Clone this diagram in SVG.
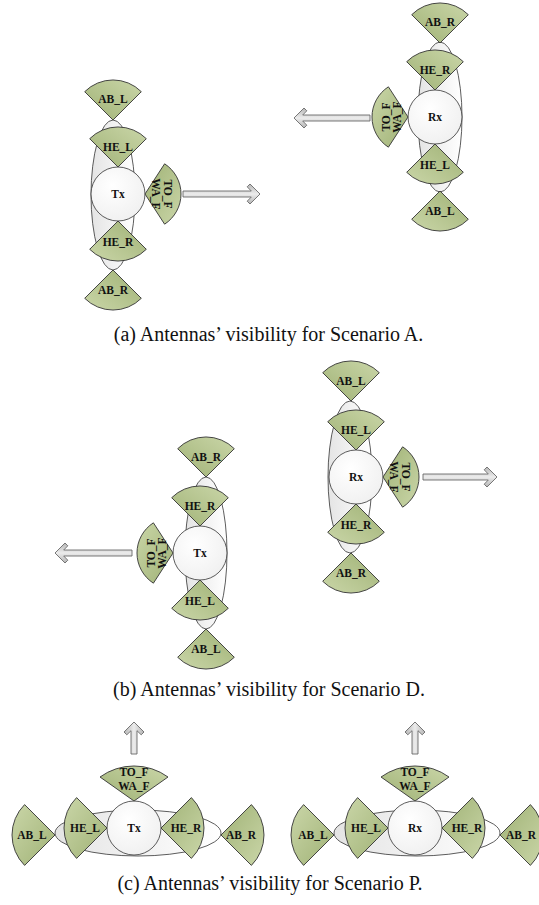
<svg xmlns="http://www.w3.org/2000/svg" xmlns:xlink="http://www.w3.org/1999/xlink" width="539" height="905" viewBox="0 0 539 905">
<defs>
<linearGradient id="gW" x1="0" y1="1" x2="1" y2="0">
<stop offset="0" stop-color="#a0b276"/>
<stop offset="1" stop-color="#cad6a8"/>
</linearGradient>
<linearGradient id="gE" x1="0" y1="0" x2="1" y2="0">
<stop offset="0" stop-color="#e4e4e4"/>
<stop offset="1" stop-color="#ffffff"/>
</linearGradient>
<radialGradient id="gC" cx="0.4" cy="0.35" r="0.7">
<stop offset="0" stop-color="#ffffff"/>
<stop offset="1" stop-color="#f0f0f0"/>
</radialGradient>
<linearGradient id="gA" x1="0" y1="0" x2="0" y2="1">
<stop offset="0" stop-color="#b4b4b4"/>
<stop offset="0.5" stop-color="#ececec"/>
<stop offset="1" stop-color="#b4b4b4"/>
</linearGradient>
<path id="wV" d="M0,0 L-28.3,-28.3 A40,40 0 0 1 28.3,-28.3 Z"/>
<path id="wT" d="M0,0 L-30.2,-19.6 A36,36 0 0 1 30.2,-19.6 Z"/>
<path id="wC" d="M0,0 L-30.4,-30.4 A43,43 0 0 1 30.4,-30.4 Z"/>
<path id="wCT" d="M0,0 L-34,-24 A58,58 0 0 1 34,-24 Z"/>
</defs>
<style>
.w{fill:url(#gW);stroke:#333333;stroke-width:0.9}
.e{fill:url(#gE);stroke:#333333;stroke-width:0.8}
.c{fill:url(#gC);stroke:#333333;stroke-width:0.8}
.l{font-family:"Liberation Serif","Times New Roman",serif;font-weight:bold;font-size:11.5px;text-anchor:middle;fill:#111}
.cap{font-family:"Liberation Serif","Times New Roman",serif;font-size:20px;text-anchor:middle;fill:#111}
.ar{fill:url(#gA);stroke:#6a6a6a;stroke-width:0.9;stroke-linejoin:miter}
</style>
<rect width="539" height="905" fill="#ffffff"/>

<!-- (a) Tx -->
<g id="a-tx">
<ellipse class="e" cx="113" cy="195" rx="22" ry="75"/>
<circle class="c" cx="118" cy="194" r="27"/>
<use xlink:href="#wV" class="w" transform="translate(113,120)"/>
<use xlink:href="#wV" class="w" transform="translate(118,167)"/>
<use xlink:href="#wT" class="w" transform="translate(145,194) rotate(90)"/>
<use xlink:href="#wV" class="w" transform="translate(118,221) rotate(180)"/>
<use xlink:href="#wV" class="w" transform="translate(113,270) rotate(180)"/>
<text class="l" x="118" y="198">Tx</text>
<text class="l" x="113" y="102.5">AB_L</text>
<text class="l" x="118" y="150.5">HE_L</text>
<text class="l" x="118" y="245.5">HE_R</text>
<text class="l" x="113" y="294">AB_R</text>
<text class="l" transform="translate(161.5,194) rotate(90)"><tspan x="0" y="-2">TO_F</tspan><tspan x="0" y="9.5">WA_F</tspan></text>
</g>

<!-- (a) Rx -->
<g id="a-rx">
<ellipse class="e" cx="440" cy="117" rx="22" ry="75"/>
<circle class="c" cx="435" cy="117" r="27"/>
<use xlink:href="#wV" class="w" transform="translate(440,43)"/>
<use xlink:href="#wV" class="w" transform="translate(435,90)"/>
<use xlink:href="#wT" class="w" transform="translate(408,117) rotate(-90)"/>
<use xlink:href="#wV" class="w" transform="translate(435,144) rotate(180)"/>
<use xlink:href="#wV" class="w" transform="translate(440,191) rotate(180)"/>
<text class="l" x="435" y="121">Rx</text>
<text class="l" x="440" y="25.5">AB_R</text>
<text class="l" x="435" y="73.5">HE_R</text>
<text class="l" x="435" y="168.5">HE_L</text>
<text class="l" x="440" y="215">AB_L</text>
<text class="l" transform="translate(391.5,117) rotate(-90)"><tspan x="0" y="-2">TO_F</tspan><tspan x="0" y="9.5">WA_F</tspan></text>
</g>

<!-- (b) Tx -->
<g id="b-tx">
<ellipse class="e" cx="206" cy="553" rx="21" ry="76"/>
<circle class="c" cx="200" cy="553" r="27"/>
<use xlink:href="#wV" class="w" transform="translate(206,477)"/>
<use xlink:href="#wV" class="w" transform="translate(200,526)"/>
<use xlink:href="#wT" class="w" transform="translate(173,553) rotate(-90)"/>
<use xlink:href="#wV" class="w" transform="translate(200,580) rotate(180)"/>
<use xlink:href="#wV" class="w" transform="translate(206,629) rotate(180)"/>
<text class="l" x="200" y="557">Tx</text>
<text class="l" x="206" y="460.5">AB_R</text>
<text class="l" x="200" y="509.5">HE_R</text>
<text class="l" x="200" y="604.5">HE_L</text>
<text class="l" x="206" y="653">AB_L</text>
<text class="l" transform="translate(156.5,553) rotate(-90)"><tspan x="0" y="-2">TO_F</tspan><tspan x="0" y="9.5">WA_F</tspan></text>
</g>

<!-- (b) Rx -->
<g id="b-rx">
<ellipse class="e" cx="350" cy="477" rx="22" ry="76"/>
<circle class="c" cx="356" cy="477" r="27"/>
<use xlink:href="#wV" class="w" transform="translate(351,401)"/>
<use xlink:href="#wV" class="w" transform="translate(356,450)"/>
<use xlink:href="#wT" class="w" transform="translate(383,477) rotate(90)"/>
<use xlink:href="#wV" class="w" transform="translate(356,504) rotate(180)"/>
<use xlink:href="#wV" class="w" transform="translate(351,553) rotate(180)"/>
<text class="l" x="356" y="481">Rx</text>
<text class="l" x="351" y="384.5">AB_L</text>
<text class="l" x="356" y="433.5">HE_L</text>
<text class="l" x="356" y="528.5">HE_R</text>
<text class="l" x="351" y="577">AB_R</text>
<text class="l" transform="translate(399.5,477) rotate(90)"><tspan x="0" y="-2">TO_F</tspan><tspan x="0" y="9.5">WA_F</tspan></text>
</g>

<!-- (c) Tx -->
<g id="c-tx">
<ellipse class="e" cx="138" cy="833" rx="83" ry="23"/>
<circle class="c" cx="134" cy="828" r="27"/>
<use xlink:href="#wCT" class="w" transform="translate(134,801)"/>
<use xlink:href="#wC" class="w" transform="translate(107,828) rotate(-90)"/>
<use xlink:href="#wC" class="w" transform="translate(161,828) rotate(90)"/>
<use xlink:href="#wC" class="w" transform="translate(55,835) rotate(-90)"/>
<use xlink:href="#wC" class="w" transform="translate(221,835) rotate(90)"/>
<text class="l" x="134" y="832">Tx</text>
<text class="l" x="134" y="776">TO_F</text>
<text class="l" x="134" y="789.5">WA_F</text>
<text class="l" x="85" y="832">HE_L</text>
<text class="l" x="186" y="832">HE_R</text>
<text class="l" x="32" y="839">AB_L</text>
<text class="l" x="241" y="839">AB_R</text>
</g>

<!-- (c) Rx -->
<g id="c-rx">
<ellipse class="e" cx="417" cy="833" rx="83" ry="23"/>
<circle class="c" cx="415" cy="828" r="27"/>
<use xlink:href="#wCT" class="w" transform="translate(415,801)"/>
<use xlink:href="#wC" class="w" transform="translate(388,828) rotate(-90)"/>
<use xlink:href="#wC" class="w" transform="translate(442,828) rotate(90)"/>
<use xlink:href="#wC" class="w" transform="translate(334,835) rotate(-90)"/>
<use xlink:href="#wC" class="w" transform="translate(500,835) rotate(90)"/>
<text class="l" x="415" y="832">Rx</text>
<text class="l" x="415" y="776">TO_F</text>
<text class="l" x="415" y="789.5">WA_F</text>
<text class="l" x="366" y="832">HE_L</text>
<text class="l" x="467" y="832">HE_R</text>
<text class="l" x="313" y="839">AB_L</text>
<text class="l" x="521" y="839">AB_R</text>
</g>

<!-- direction arrows -->
<g id="arrows">
<path class="ar" transform="translate(260,194)" d="M-77,-3 L-8.7,-3 L-12.8,-7.2 L-10,-10 L0,0 L-10,10 L-12.8,7.2 L-8.7,3 L-77,3 Z"/>
<path class="ar" transform="translate(294,118) rotate(180)" d="M-76,-3 L-8.7,-3 L-12.8,-7.2 L-10,-10 L0,0 L-10,10 L-12.8,7.2 L-8.7,3 L-76,3 Z"/>
<path class="ar" transform="translate(497,477)" d="M-74,-3 L-8.7,-3 L-12.8,-7.2 L-10,-10 L0,0 L-10,10 L-12.8,7.2 L-8.7,3 L-74,3 Z"/>
<path class="ar" transform="translate(55,553) rotate(180)" d="M-77,-3 L-8.7,-3 L-12.8,-7.2 L-10,-10 L0,0 L-10,10 L-12.8,7.2 L-8.7,3 L-77,3 Z"/>
<path class="ar" transform="translate(134,722) rotate(-90)" d="M-32,-3 L-8.7,-3 L-12.8,-7.2 L-10,-10 L0,0 L-10,10 L-12.8,7.2 L-8.7,3 L-32,3 Z"/>
<path class="ar" transform="translate(415,722) rotate(-90)" d="M-32,-3 L-8.7,-3 L-12.8,-7.2 L-10,-10 L0,0 L-10,10 L-12.8,7.2 L-8.7,3 L-32,3 Z"/>
</g>

<g id="captions">
<text class="cap" x="268.5" y="341">(a) Antennas’ visibility for Scenario A.</text>
<text class="cap" x="269" y="696">(b) Antennas’ visibility for Scenario D.</text>
<text class="cap" x="270" y="890">(c) Antennas’ visibility for Scenario P.</text>
</g>
</svg>
